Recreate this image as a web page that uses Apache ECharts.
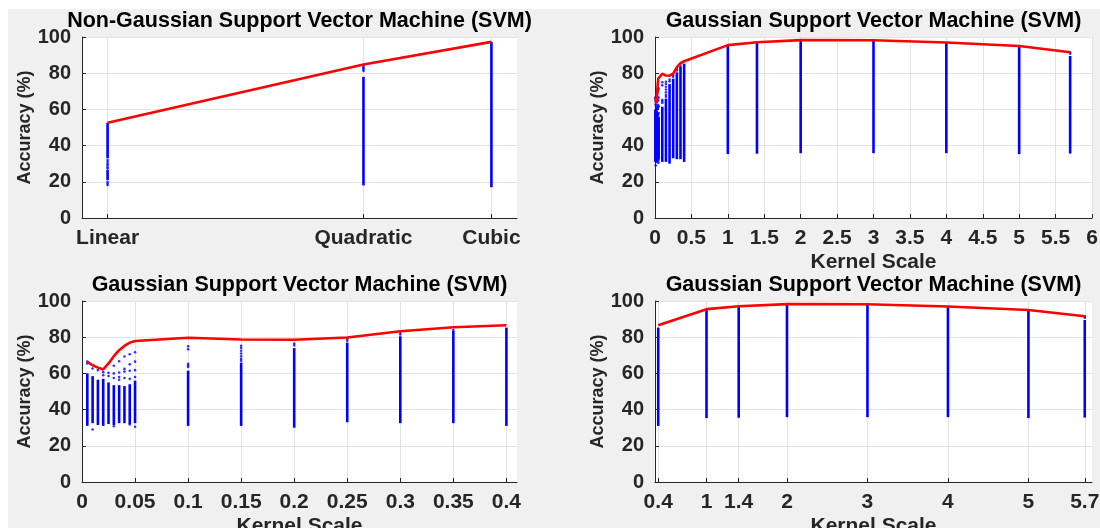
<!DOCTYPE html>
<html>
<head>
<meta charset="utf-8">
<script src="https://cdn.jsdelivr.net/npm/echarts@6/dist/echarts.min.js"></script>
<style>
  body { margin: 0; background: #fff; }
  #figBg { position: absolute; left: 8px; top: 9px; width: 1092px; height: 519px; background: #f0f0f0; }
  #chart { position: absolute; left: 0; top: 0; width: 1100px; height: 528px; }
</style>
</head>
<body>
<div id="figBg"></div>
<div id="chart"></div>
<script>
// --- non-gaussian SVM (kernel type) ---
const svmTypes = ['Linear', 'Quadratic', 'Cubic'];
const svmTypePos = [1, 3, 4];
const svmBest = [52.6, 84.8, 97.3];
// dense runs of points: [x, low, high]
const svmRuns = [[1, 33, 52.6], [1, 21, 26.5], [3, 18, 78], [4, 17, 97.3]];
// isolated points
const svmDots = [
  [1, 32], [1, 31], [1, 30], [1, 29.2], [1, 28], [1, 27.3], [1, 20], [1, 19], [1, 18.2],
  [3, 84.4], [3, 83.6], [3, 82.8], [3, 82], [3, 81.2]
];

// --- gaussian SVM (kernel scale) ---
const kernelScale = [0.005, 0.01, 0.015, 0.02, 0.025, 0.03, 0.035, 0.04, 0.045, 0.05,
  0.1, 0.15, 0.2, 0.25, 0.3, 0.35, 0.4, 1, 1.4, 2, 3, 4, 5, 5.7];
const kernelBest = [66.4, 64.5, 63.2, 62.2, 65.5, 69.5, 72.8, 75.2, 77, 77.9,
  79.7, 78.7, 78.6, 79.8, 83.3, 85.5, 86.6, 95.5, 97.1, 98.3, 98.2, 97, 95, 91.6];
const kernelLow = [31, 32.5, 31.5, 31, 32, 31.5, 32.5, 32.5, 32, 32.5,
  31, 31, 30, 33, 32.5, 32.5, 31, 35.3, 35.5, 35.8, 35.8, 35.8, 35.3, 35.6];
const kernelHigh = [60, 58.5, 56.5, 57, 55, 53.5, 53.5, 53, 54, 56,
  61.5, 66, 74, 77, 80.5, 83.5, 85.3, 95.3, 97, 98.2, 98.1, 96.9, 95, 89.5];
const kernelDots = [
  [0.005, 66.5], [0.005, 65.5],
  [0.01, 62.7], [0.01, 29],
  [0.015, 61.8],
  [0.02, 60.7], [0.02, 59],
  [0.025, 60.3], [0.025, 58.5],
  [0.03, 64.2], [0.03, 60], [0.03, 57.5], [0.03, 30.8],
  [0.035, 66.7], [0.035, 60.5], [0.035, 58], [0.035, 56.5],
  [0.04, 69.3], [0.04, 62.5], [0.04, 61], [0.04, 57.5],
  [0.045, 70.6], [0.045, 65], [0.045, 61.5], [0.045, 57], [0.045, 31.8],
  [0.05, 71.7], [0.05, 66.5], [0.05, 61.8], [0.05, 58], [0.05, 30.5],
  [0.1, 75], [0.1, 73.3], [0.1, 65.3], [0.1, 64.5], [0.1, 63.5],
  [0.15, 75.3], [0.15, 74], [0.15, 72.5], [0.15, 71], [0.15, 69.5], [0.15, 68], [0.15, 67],
  [0.2, 76.5], [0.2, 75.5],
  [0.25, 79], [0.25, 78],
  [0.3, 82.5], [0.3, 81.5],
  [0.35, 84],
  [5.7, 91.5], [5.7, 90.8]
];

const scaleTicksSmall = [0, 0.05, 0.1, 0.15, 0.2, 0.25, 0.3, 0.35, 0.4];
const scaleTicksLarge = [0.4, 1, 1.4, 2, 3, 4, 5, 5.7];
const accTicksInterval = 20;

const FONT = "'Liberation Sans', Arial, Helvetica, sans-serif";
const INK = '#262626';
const BLUE = '#0000ff';
const RED = '#ff0000';
const GRIDLINE = '#e3e3e3';

const chart = echarts.init(document.getElementById('chart'));

const grids = [
  { left: 82, top: 37, width: 435, height: 181 },
  { left: 655, top: 37, width: 437, height: 181 },
  { left: 82, top: 301, width: 435, height: 181 },
  { left: 655, top: 301, width: 437, height: 181 }
].map(g => Object.assign({
  show: true, backgroundColor: '#fff', borderWidth: 0,
  containLabel: false, outerBoundsMode: 'none'
}, g));

const xLabel = extra => Object.assign({
  color: INK, fontFamily: FONT, fontWeight: 'bold', fontSize: 21, margin: 10
}, extra);
const xTick = extra => Object.assign({
  inside: true, length: 4, lineStyle: { color: INK }
}, extra);

function xAxisFor(i, opts) {
  return Object.assign({
    type: 'value',
    gridIndex: i,
    axisLine: { onZero: false, lineStyle: { color: INK, width: 1 } },
    axisTick: xTick({}),
    axisLabel: xLabel({}),
    splitLine: { show: true, lineStyle: { color: GRIDLINE, width: 1 } },
    nameLocation: 'middle',
    nameGap: 34,
    nameTextStyle: { color: INK, fontFamily: FONT, fontWeight: 'bold', fontSize: 21 }
  }, opts);
}

function yAxisFor(i) {
  return {
    type: 'value',
    gridIndex: i,
    min: 0, max: 100, interval: accTicksInterval,
    name: 'Accuracy (%)',
    nameLocation: 'middle',
    nameGap: 47,
    nameTextStyle: { color: INK, fontFamily: FONT, fontWeight: 'bold', fontSize: 18 },
    axisLine: { show: true, onZero: false, lineStyle: { color: INK, width: 1 } },
    axisTick: { show: true, inside: true, length: 4, lineStyle: { color: INK } },
    axisLabel: { color: INK, fontFamily: FONT, fontWeight: 'bold', fontSize: 20, margin: 11 },
    splitLine: { show: true, lineStyle: { color: GRIDLINE, width: 1 } }
  };
}

function runSeries(i, runs) {
  return {
    type: 'custom',
    xAxisIndex: i, yAxisIndex: i,
    silent: true,
    data: runs,
    encode: { x: 0, y: [1, 2] },
    renderItem(params, api) {
      const a = api.coord([api.value(0), api.value(1)]);
      const b = api.coord([api.value(0), api.value(2)]);
      return {
        type: 'line',
        shape: { x1: a[0], y1: a[1], x2: b[0], y2: b[1] },
        style: { stroke: BLUE, lineWidth: 2.6 }
      };
    },
    z: 2
  };
}

function dotSeries(i, dots) {
  return {
    type: 'scatter', xAxisIndex: i, yAxisIndex: i, silent: true,
    symbol: 'circle', symbolSize: 2.6,
    itemStyle: { color: BLUE },
    data: dots, z: 2
  };
}

function bestSeries(i, pts) {
  return {
    type: 'line', xAxisIndex: i, yAxisIndex: i, silent: true,
    showSymbol: false, data: pts,
    lineStyle: { color: RED, width: 2.6 },
    z: 3
  };
}

const kernelRuns = kernelScale.map((x, k) => [x, kernelLow[k], kernelHigh[k]]);
const kernelLine = kernelScale.map((x, k) => [x, kernelBest[k]]);
const small = p => p[0] <= 0.4;
const large = p => p[0] >= 0.4;

const titleText = (i, text) => ({
  text: text,
  left: grids[i].left + grids[i].width / 2,
  top: grids[i].top - 27,
  textAlign: 'center',
  padding: 0,
  textStyle: { color: '#000', fontFamily: FONT, fontWeight: 'bold', fontSize: 21.5 }
});

const option = {
  animation: false,
  title: [
    titleText(0, 'Non-Gaussian Support Vector Machine (SVM)'),
    titleText(1, 'Gaussian Support Vector Machine (SVM)'),
    titleText(2, 'Gaussian Support Vector Machine (SVM)'),
    titleText(3, 'Gaussian Support Vector Machine (SVM)')
  ],
  grid: grids,
  xAxis: [
    xAxisFor(0, {
      min: 0.8, max: 4.2,
      axisTick: xTick({ customValues: svmTypePos }),
      axisLabel: xLabel({
        customValues: svmTypePos,
        formatter: v => svmTypes[svmTypePos.indexOf(v)] || ''
      })
    }),
    xAxisFor(1, { min: 0, max: 6, interval: 0.5, name: 'Kernel Scale' }),
    xAxisFor(2, {
      min: 0, max: 0.41, name: 'Kernel Scale',
      axisTick: xTick({ customValues: scaleTicksSmall }),
      axisLabel: xLabel({ customValues: scaleTicksSmall })
    }),
    xAxisFor(3, {
      min: 0.36, max: 5.79, name: 'Kernel Scale',
      axisTick: xTick({ customValues: scaleTicksLarge }),
      axisLabel: xLabel({ customValues: scaleTicksLarge })
    })
  ],
  yAxis: [yAxisFor(0), yAxisFor(1), yAxisFor(2), yAxisFor(3)],
  series: [
    runSeries(0, svmRuns),
    dotSeries(0, svmDots),
    bestSeries(0, svmTypePos.map((x, k) => [x, svmBest[k]])),

    runSeries(1, kernelRuns),
    dotSeries(1, kernelDots),
    bestSeries(1, kernelLine),

    runSeries(2, kernelRuns.filter(small)),
    dotSeries(2, kernelDots.filter(small)),
    bestSeries(2, kernelLine.filter(small)),

    runSeries(3, kernelRuns.filter(large)),
    dotSeries(3, kernelDots.filter(large)),
    bestSeries(3, kernelLine.filter(large))
  ]
};

chart.setOption(option);
</script>
</body>
</html>
